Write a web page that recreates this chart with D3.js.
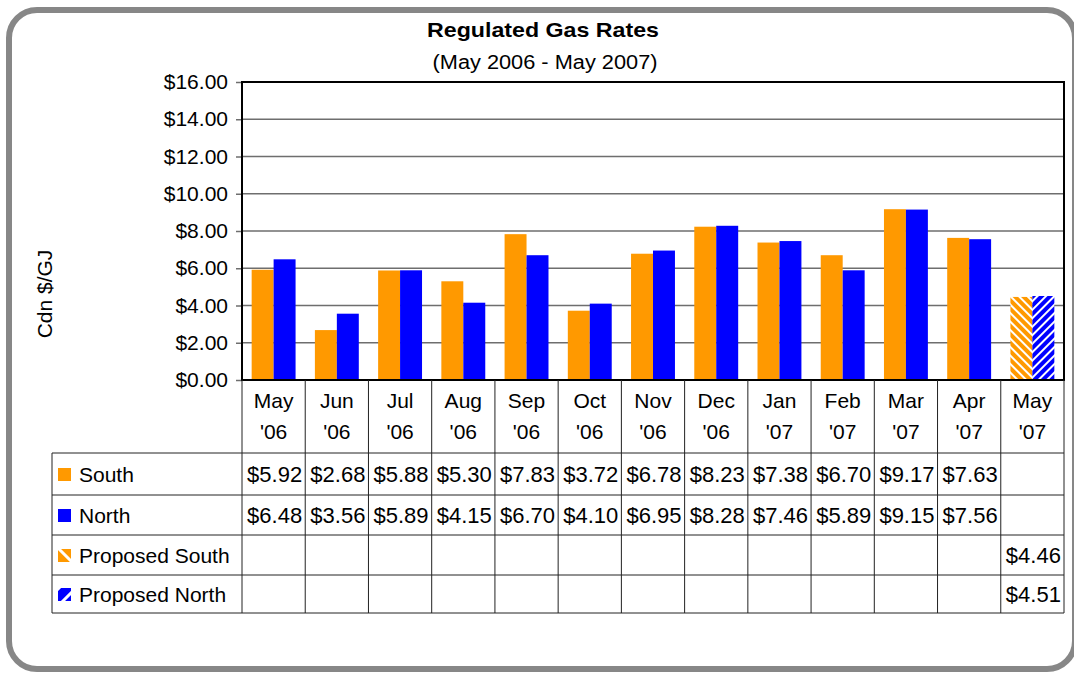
<!DOCTYPE html>
<html>
<head>
<meta charset="utf-8">
<script src="https://cdn.jsdelivr.net/npm/d3@7"></script>
<style>
  body { margin: 0; background: #fff; }
  text { font-family: "Liberation Sans", Arial, sans-serif; fill: #000; }
</style>
</head>
<body>
<div id="my_dataviz"></div>
<script>
// data
const months = ["May", "Jun", "Jul", "Aug", "Sep", "Oct", "Nov", "Dec", "Jan", "Feb", "Mar", "Apr", "May"];
const years = ["'06", "'06", "'06", "'06", "'06", "'06", "'06", "'06", "'07", "'07", "'07", "'07", "'07"];
const south = [5.92, 2.68, 5.88, 5.30, 7.83, 3.72, 6.78, 8.23, 7.38, 6.70, 9.17, 7.63, null];
const north = [6.48, 3.56, 5.89, 4.15, 6.70, 4.10, 6.95, 8.28, 7.46, 5.89, 9.15, 7.56, null];
const proposedSouth = [null, null, null, null, null, null, null, null, null, null, null, null, 4.46];
const proposedNorth = [null, null, null, null, null, null, null, null, null, null, null, null, 4.51];
const yTicks = [0, 2, 4, 6, 8, 10, 12, 14, 16];
const seriesNames = ["South", "North", "Proposed South", "Proposed North"];

const W = 1074, H = 673;
// plot area
const plotLeft = 242, plotRight = 1064, plotTop = 82, plotBottom = 380;
// table rows under the axis
const tableLeft = 52;
const rowLines = [453, 495, 535, 575, 613];

const svg = d3.select("#my_dataviz")
    .append("svg")
    .attr("width", W)
    .attr("height", H);

// patterns for the proposed rates
const defs = svg.append("defs");
function stripes(id, color, angle, size, white) {
    const p = defs.append("pattern")
        .attr("id", id)
        .attr("patternUnits", "userSpaceOnUse")
        .attr("width", size)
        .attr("height", size)
        .attr("patternTransform", `rotate(${angle})`);
    p.append("rect").attr("width", size).attr("height", size).attr("fill", color);
    p.append("rect").attr("width", white).attr("height", size).attr("fill", "#fff");
}
stripes("hatchSouth", "#ff9900", -45, 6, 2);
stripes("hatchNorth", "#0000ff", 45, 6, 2);
// legend swatches only show one white band
stripes("keySouth", "#ff9900", -45, 12, 3);
stripes("keyNorth", "#0000ff", 45, 12, 3);

const fills = ["#ff9900", "#0000ff", "url(#hatchSouth)", "url(#hatchNorth)"];
const keyFills = ["#ff9900", "#0000ff", "url(#keySouth)", "url(#keyNorth)"];

// rounded frame
svg.append("rect")
    .attr("x", 9)
    .attr("y", 10)
    .attr("width", 1066)
    .attr("height", 659)
    .attr("rx", 28)
    .attr("fill", "#fff")
    .attr("stroke", "#878787")
    .attr("stroke-width", 6);

// titles
svg.append("text")
    .attr("x", 543)
    .attr("y", 37)
    .attr("text-anchor", "middle")
    .attr("font-size", "21px")
    .attr("font-weight", "bold")
    .attr("textLength", 232)
    .attr("lengthAdjust", "spacingAndGlyphs")
    .text("Regulated Gas Rates");
svg.append("text")
    .attr("x", 545)
    .attr("y", 69)
    .attr("text-anchor", "middle")
    .attr("font-size", "20px")
    .attr("textLength", 225)
    .attr("lengthAdjust", "spacingAndGlyphs")
    .text("(May 2006 - May 2007)");

// scales
const x = d3.scaleBand()
    .domain(d3.range(months.length))
    .range([plotLeft, plotRight])
    .padding(0);
const xSub = d3.scaleBand()
    .domain([0, 1])
    .range([0, x.bandwidth()])
    .paddingInner(0)
    .paddingOuter(0.44);
const y = d3.scaleLinear()
    .domain([0, 16])
    .range([plotBottom, plotTop]);

// gridlines
svg.append("g")
    .selectAll("line")
    .data(yTicks.slice(1, -1))
    .join("line")
    .attr("x1", plotLeft)
    .attr("x2", plotRight)
    .attr("y1", d => y(d))
    .attr("y2", d => y(d))
    .attr("stroke", "#6e6e6e")
    .attr("stroke-width", 1.5);

// Y axis
const yAxis = svg.append("g")
    .attr("transform", `translate(${plotLeft},0)`)
    .call(d3.axisLeft(y).tickValues(yTicks).tickFormat(d3.format("$.2f")).tickSize(6).tickPadding(8));
yAxis.select(".domain").remove();
yAxis.selectAll("line").attr("stroke", "#6e6e6e").attr("stroke-width", 1.5);
yAxis.selectAll("text")
    .attr("font-size", "21px")
    .attr("font-family", "Liberation Sans, Arial, sans-serif")
    .attr("fill", "#000");

svg.append("text")
    .attr("transform", `translate(52,294) rotate(-90)`)
    .attr("text-anchor", "middle")
    .attr("font-size", "21px")
    .text("Cdn $/GJ");

// bars
const series = [south, north, proposedSouth, proposedNorth];
series.forEach((data, s) => {
    svg.append("g")
        .selectAll("rect")
        .data(data.map((v, i) => ({ i: i, v: v })).filter(d => d.v !== null))
        .join("rect")
        .attr("x", d => x(d.i) + xSub(s % 2))
        .attr("y", d => y(d.v))
        .attr("width", xSub.bandwidth())
        .attr("height", d => y(0) - y(d.v))
        .attr("fill", fills[s]);
});

// plot frame
svg.append("rect")
    .attr("x", plotLeft)
    .attr("y", plotTop)
    .attr("width", plotRight - plotLeft)
    .attr("height", plotBottom - plotTop)
    .attr("fill", "none")
    .attr("stroke", "#000")
    .attr("stroke-width", 2);

// data table
const table = svg.append("g").attr("stroke", "#222").attr("stroke-width", 1);
table.selectAll(".hline")
    .data(rowLines)
    .join("line")
    .attr("x1", tableLeft)
    .attr("x2", plotRight)
    .attr("y1", d => d)
    .attr("y2", d => d);
table.selectAll(".vline")
    .data(d3.range(months.length + 1))
    .join("line")
    .attr("x1", d => plotLeft + d * x.step())
    .attr("x2", d => plotLeft + d * x.step())
    .attr("y1", plotBottom)
    .attr("y2", rowLines[rowLines.length - 1]);
table.append("line")
    .attr("x1", tableLeft)
    .attr("x2", tableLeft)
    .attr("y1", rowLines[0])
    .attr("y2", rowLines[rowLines.length - 1]);

// category labels
const cats = svg.append("g")
    .selectAll("g")
    .data(months)
    .join("g")
    .attr("transform", (d, i) => `translate(${x(i) + x.bandwidth() / 2},0)`);
cats.append("text")
    .attr("y", 408)
    .attr("text-anchor", "middle")
    .attr("font-size", "21px")
    .text(d => d);
cats.append("text")
    .attr("y", 439)
    .attr("text-anchor", "middle")
    .attr("font-size", "21px")
    .text((d, i) => years[i]);

// legend column + values
seriesNames.forEach((name, s) => {
    const rowMid = (rowLines[s] + rowLines[s + 1]) / 2;
    svg.append("rect")
        .attr("x", 58)
        .attr("y", rowMid - 6)
        .attr("width", 13)
        .attr("height", 13)
        .attr("fill", keyFills[s]);
    svg.append("text")
        .attr("x", 79)
        .attr("y", rowMid + 8)
        .attr("font-size", "21px")
        .text(name);
    svg.append("g")
        .selectAll("text")
        .data(series[s].map((v, i) => ({ i: i, v: v })).filter(d => d.v !== null))
        .join("text")
        .attr("x", d => x(d.i) + x.bandwidth() / 2 + 1)
        .attr("y", rowMid + 8)
        .attr("text-anchor", "middle")
        .attr("font-size", "22px")
        .text(d => d3.format("$.2f")(d.v));
});
</script>
</body>
</html>
